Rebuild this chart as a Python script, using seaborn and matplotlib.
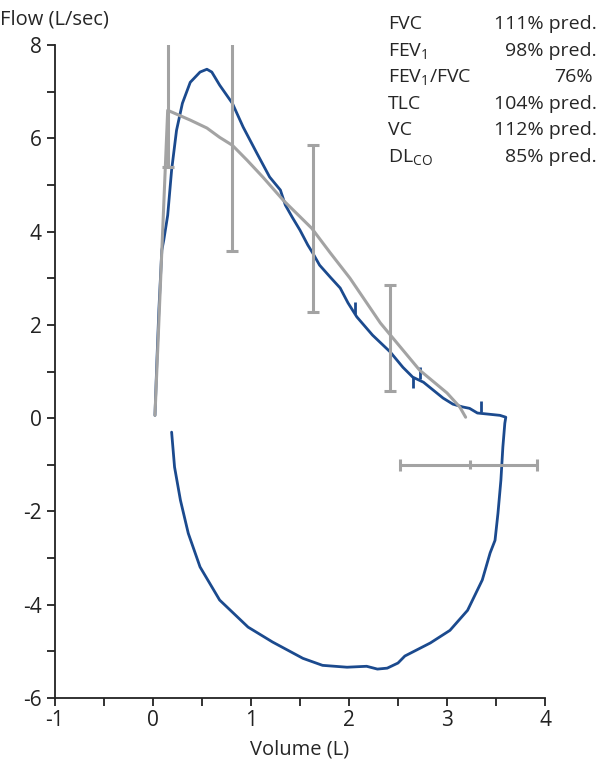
import matplotlib
matplotlib.use("Agg")
import matplotlib.pyplot as plt
import seaborn as sns
import pandas as pd
import numpy as np

# gemessene Fluss-Volumen-Kurve (Exspiration, dann Inspiration)
loop_volume = [0.02, 0.04, 0.06, 0.09, 0.11, 0.15, 0.19, 0.24, 0.30, 0.38, 0.48, 0.55,
               0.60, 0.68, 0.81, 0.92, 1.06, 1.19, 1.30, 1.35, 1.42, 1.50, 1.58, 1.63,
               1.70, 1.81, 1.91, 1.99, 2.08, 2.24, 2.42, 2.55, 2.65, 2.76, 2.86, 2.96,
               3.06, 3.16, 3.23, 3.31, 3.54, 3.60,
               3.59, 3.57, 3.55, 3.52, 3.49, 3.44, 3.36, 3.21, 3.03, 2.83, 2.57, 2.50,
               2.39, 2.29, 2.18, 1.98, 1.73, 1.53, 1.22, 0.97, 0.68, 0.48, 0.36, 0.28,
               0.22, 0.19]
loop_flow = [0.06, 1.24, 2.32, 3.60, 3.82, 4.35, 5.32, 6.17, 6.75, 7.20, 7.42, 7.48,
             7.42, 7.14, 6.75, 6.24, 5.68, 5.17, 4.89, 4.57, 4.31, 4.03, 3.71, 3.54,
             3.28, 3.02, 2.79, 2.47, 2.17, 1.78, 1.42, 1.09, 0.88, 0.77, 0.60, 0.43,
             0.30, 0.24, 0.21, 0.11, 0.06, 0.02,
             -0.11, -0.62, -1.33, -2.04, -2.62, -2.89, -3.47, -4.12, -4.55, -4.82, -5.10, -5.25,
             -5.36, -5.38, -5.32, -5.34, -5.30, -5.15, -4.80, -4.48, -3.90, -3.19, -2.47, -1.76,
             -1.05, -0.30]

# Sollkurve
pred_volume = [0.02, 0.15, 0.38, 0.55, 0.68, 0.81, 0.96, 1.12, 1.33, 1.62, 1.81, 2.01,
               2.32, 2.72, 3.00, 3.13, 3.19]
pred_flow = [0.06, 6.60, 6.39, 6.22, 6.02, 5.85, 5.53, 5.17, 4.67, 4.07, 3.54, 3.00,
             2.04, 1.03, 0.54, 0.24, 0.02]

# Streubereiche (vertikal)
bar_x = [0.15, 0.81, 1.63, 2.42]
bar_lo = [5.38, 3.58, 2.27, 0.58]
bar_hi = [8.06, 8.06, 5.85, 2.85]

# Streubereich (horizontal)
hbar_y = -1.0
hbar_lo, hbar_mid, hbar_hi = 2.52, 3.23, 3.92

# kleine Markierungen auf der Kurve
mark_x = [2.06, 2.65, 2.72, 3.35]
mark_lo = [2.23, 0.64, 0.84, 0.13]
mark_hi = [2.49, 0.88, 1.09, 0.36]

# Tabelle
table_labels = ["FVC", "FEV$_1$", "FEV$_1$/FVC", "TLC", "VC", "DL$_{CO}$"]
table_values = ["111% pred.", "98% pred.", "76%", "104% pred.", "112% pred.", "85% pred."]

sns.set_style("ticks")
plt.rcParams['font.family'] = ['Open Sans', 'DejaVu Sans']
plt.rcParams['mathtext.default'] = 'regular'
plt.rcParams['axes.unicode_minus'] = False

blue = "#1b4a8e"
grey = "#a3a3a3"

fig = plt.figure(figsize=(6, 7.66), dpi=100)
ax = fig.add_axes([55 / 600, 68 / 766, 490 / 600, 653 / 766])

loop = pd.DataFrame({"v": loop_volume, "f": loop_flow})
pred = pd.DataFrame({"v": pred_volume, "f": pred_flow})

sns.lineplot(data=loop, x="v", y="f", sort=False, estimator=None, color=blue, lw=2.0,
             ax=ax, zorder=2)
ax.vlines(mark_x, mark_lo, mark_hi, color=blue, lw=2.0, zorder=2)
sns.lineplot(data=pred, x="v", y="f", sort=False, estimator=None, color=grey, lw=2.2,
             ax=ax, zorder=3)

ax.errorbar(bar_x, [(a + b) / 2 for a, b in zip(bar_lo, bar_hi)],
            yerr=[[(b - a) / 2 for a, b in zip(bar_lo, bar_hi)]] * 2,
            fmt="none", ecolor=grey, elinewidth=2.2, capsize=4.5, capthick=2.2, zorder=3)
ax.errorbar([hbar_mid], [hbar_y], xerr=[[hbar_mid - hbar_lo], [hbar_hi - hbar_mid]],
            fmt="none", ecolor=grey, elinewidth=2.2, capsize=4.5, capthick=2.2, zorder=3)
ax.vlines([hbar_mid], hbar_y - 0.1, hbar_y + 0.1, color=grey, lw=2.2, zorder=3)

ax.set_xlim(-1, 4)
ax.set_ylim(-6, 8)
ax.set_xticks(range(-1, 5))
ax.set_xticks(np.arange(-0.5, 4, 1.0), minor=True)
ax.set_yticks(range(-6, 9, 2))
ax.set_yticks(range(-5, 8, 2), minor=True)
ax.tick_params(which="both", direction="out", length=6, width=1.3, colors="#222222",
               labelsize=15)
ax.tick_params(axis="x", pad=3)
sns.despine(ax=ax)
for s in ("left", "bottom"):
    ax.spines[s].set_linewidth(1.3)
    ax.spines[s].set_color("#222222")

ax.set_xlabel("Volume (L)", fontsize=14.5, labelpad=6)
ax.set_ylabel("")
fig.text(0.0, 1 - 20 / 766, "Flow (L/sec)", fontsize=14.5, ha="left", va="center")

for i, (lab, val) in enumerate(zip(table_labels, table_values)):
    yy = 1 - (24 + 26.6 * i) / 766
    fig.text(388 / 600, yy, lab, fontsize=14, ha="left", va="center")
    xr = 597 / 600 if "pred" in val else 593 / 600
    fig.text(xr, yy, val, fontsize=14, ha="right", va="center")

fig.savefig("out.png", dpi=100)
